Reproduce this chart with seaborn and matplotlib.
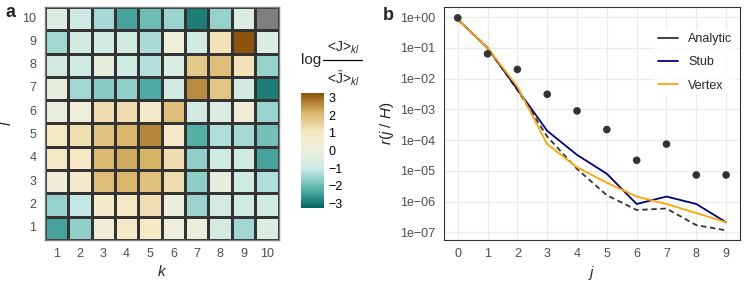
import numpy as np
import pandas as pd
import matplotlib
matplotlib.use("Agg")
import matplotlib.pyplot as plt
from matplotlib.lines import Line2D
from matplotlib.colors import LinearSegmentedColormap
import seaborn as sns

# ---- panel a: log ratio per (l, k), rows from l=10 down to l=1
k_labels = list(range(1, 11))
l_labels = list(range(10, 0, -1))
log_ratio = [
    [-0.5, -0.9, -1.4, -2.4, -2.0, -1.5, -2.9, -1.55, -0.5, np.nan],     # l=10
    [-1.45, -0.8, -0.85, -0.8, -1.35, 0.1, -0.8, 1.2, 3.2, -0.5],        # l=9
    [-0.8, -0.85, -0.2, -0.85, -1.25, -0.6, 1.75, 1.95, 1.2, -1.55],     # l=8
    [-0.2, -1.45, -1.7, -1.6, -2.3, -0.8, 2.6, 1.8, -0.8, -2.9],         # l=7
    [-0.15, 0.05, 1.3, 1.3, 0.8, 1.95, -0.8, -0.55, 0.2, -1.5],          # l=6
    [1.0, 1.25, 1.85, 2.1, 2.65, 0.85, -2.25, -1.3, -1.4, -1.9],         # l=5
    [1.0, 1.05, 2.05, 2.25, 2.15, 1.3, -1.6, -0.85, -0.85, -2.4],        # l=4
    [0.25, 0.7, 1.95, 2.1, 1.9, 1.3, -1.65, -0.25, -0.9, -1.3],          # l=3
    [-1.55, -1.1, 0.75, 1.0, 1.25, -0.1, -1.5, -0.75, -0.8, -0.85],      # l=2
    [-2.4, -1.6, 0.2, 1.0, 0.95, -0.05, -0.15, -0.7, -1.45, -0.5],       # l=1
]

# ---- panel b: r(j | H)
j_vals = list(range(10))
observed = [0.95, 0.064, 0.02, 0.0031, 8.9e-4, 2.2e-4, 2.2e-5, 7.4e-5, 7.3e-6, 7.3e-6]
analytic = [0.85, 0.1, 0.0043, 1.3e-4, 1.15e-5, 1.6e-6, 5.3e-7, 5.9e-7, 1.7e-7, 1.15e-7]
stub = [0.85, 0.1, 0.0045, 2.0e-4, 3.3e-5, 8.0e-6, 8.3e-7, 1.45e-6, 8.3e-7, 2.1e-7]
vertex = [0.85, 0.1, 0.0055, 7.4e-5, 1.3e-5, 4.1e-6, 1.45e-6, 8.3e-7, 4.2e-7, 2.1e-7]

sns.set_style("white")
plt.rcParams["font.family"] = ["Liberation Sans", "DejaVu Sans"]
plt.rcParams["mathtext.fontset"] = "custom"
plt.rcParams["mathtext.rm"] = "Liberation Sans"
plt.rcParams["mathtext.it"] = "Liberation Sans:italic"

brbg = LinearSegmentedColormap.from_list(
    "brbg7", ["#01665e", "#5ab4ac", "#c7eae5", "#eeeedb", "#f6e8c3", "#d8b365", "#8c510a"])

tick_col = "#4d4d4d"
fig = plt.figure(figsize=(7.47, 2.88), dpi=100)
ax1 = fig.add_axes([0.060, 0.167, 0.313, 0.809])
cax = fig.add_axes([0.403, 0.278, 0.031, 0.399])
ax2 = fig.add_axes([0.594, 0.167, 0.396, 0.809])

# heatmap
df = pd.DataFrame(log_ratio, index=l_labels, columns=k_labels)
ax1.set_facecolor("#7f7f7f")
sns.heatmap(df, ax=ax1, cbar_ax=cax, cmap=brbg, vmin=-3.25, vmax=3.25,
            linewidths=0.9, linecolor="#333333", square=False)
ax1.set_xlabel("$k$", fontsize=11, labelpad=3)
ax1.set_ylabel("$l$", fontsize=11, labelpad=6)
ax1.tick_params(axis="both", colors=tick_col, labelsize=9, length=2.5, width=0.6)
ax1.tick_params(axis="y", rotation=0)
for lab in ax1.get_xticklabels() + ax1.get_yticklabels():
    lab.set_color(tick_col)
for sp in ax1.spines.values():
    sp.set_visible(True)
    sp.set_color("#7f7f7f")
    sp.set_linewidth(1)

cax.set_yticks([-3, -2, -1, 0, 1, 2, 3])
cax.set_yticklabels(["\u22123", "\u22122", "\u22121", "0", "1", "2", "3"])
cax.tick_params(axis="y", colors="#ffffff", labelcolor="black", labelsize=9,
                length=3, width=0.6, direction="in", pad=3,
                left=True, right=True, labelleft=False, labelright=True)
cax.set_ylim(-3.25, 3.25)
for sp in cax.spines.values():
    sp.set_visible(False)

# colourbar title: log <J>kl / <J^>kl
fig.text(0.403, 0.790, "log", fontsize=11, ha="left", va="center")
fig.add_artist(Line2D([0.433, 0.484], [0.792, 0.792], color="black",
                      linewidth=0.9, transform=fig.transFigure))
fig.text(0.459, 0.835, "<J>$_{kl}$", fontsize=10, ha="center", va="center")
fig.text(0.459, 0.728, "<\u0134>$_{kl}$", fontsize=10, ha="center", va="center")

# line panel
lines = pd.DataFrame({
    "j": j_vals * 3,
    "r": analytic + stub + vertex,
    "model": ["Analytic"] * 10 + ["Stub"] * 10 + ["Vertex"] * 10,
})
colors = {"Analytic": "#333333", "Stub": "#000080", "Vertex": "#FFA500"}
sns.lineplot(data=lines, x="j", y="r", hue="model", style="model",
             palette=colors, dashes={"Analytic": (3, 2), "Stub": "", "Vertex": ""},
             linewidth=1.3, ax=ax2, legend=False)
sns.scatterplot(x=j_vals, y=observed, color="#333333", s=30, edgecolor="none",
                ax=ax2, zorder=5)
ax2.set_yscale("log")
ax2.set_ylim(10 ** -7.25, 10 ** 0.335)
ax2.set_xlim(-0.47, 9.45)
ax2.set_xticks(j_vals)
yt = [10.0 ** e for e in range(-7, 1)]
ax2.set_yticks(yt)
ax2.set_yticklabels(["1e\u221207", "1e\u221206", "1e\u221205", "1e\u221204",
                     "1e\u221203", "1e\u221202", "1e\u221201", "1e+00"])
ax2.minorticks_off()
ax2.grid(True, color="#ebebeb", linewidth=0.9)
ax2.set_axisbelow(True)
ax2.tick_params(axis="both", colors=tick_col, labelsize=9, length=2.5, width=0.6)
for lab in ax2.get_xticklabels() + ax2.get_yticklabels():
    lab.set_color(tick_col)
for sp in ax2.spines.values():
    sp.set_color("#333333")
    sp.set_linewidth(0.8)
ax2.set_xlabel("$j$", fontsize=11, labelpad=3)
ax2.set_ylabel("$r(j\\ /\\ H)$", fontsize=11, labelpad=3)

handles = [Line2D([], [], color=colors[m], linewidth=1.3) for m in ["Analytic", "Stub", "Vertex"]]
leg = ax2.legend(handles, ["Analytic", "Stub", "Vertex"], loc="upper right",
                 bbox_to_anchor=(1.01, 0.93), frameon=True, fontsize=9,
                 handlelength=1.6, labelspacing=0.9, borderpad=0.3)
leg.get_frame().set_edgecolor("none")
leg.get_frame().set_facecolor("white")

fig.text(0.008, 0.955, "a", fontsize=13, fontweight="bold", va="center")
fig.text(0.512, 0.945, "b", fontsize=13, fontweight="bold", va="center")

fig.savefig("out.png", dpi=100)
